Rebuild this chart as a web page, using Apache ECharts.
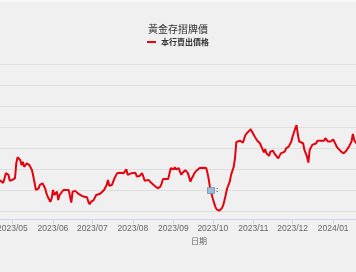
<!DOCTYPE html>
<html><head><meta charset="utf-8">
<script src="https://cdn.jsdelivr.net/npm/echarts@6/dist/echarts.min.js"></script>
<style>html,body{margin:0;padding:0;background:#f0f0f0;}#c{width:356px;height:272px;}</style>
</head><body><div id="c"></div>
<script>
var chartTitle = '黃金存摺牌價';
var seriesName = '本行賣出價格';
var axisName = '日期';
var dates = ['2023-04-20','2023-04-21','2023-04-24','2023-04-25','2023-04-26','2023-04-28','2023-04-29',
'2023-05-01','2023-05-03','2023-05-04','2023-05-05','2023-05-07','2023-05-08','2023-05-09','2023-05-10','2023-05-12','2023-05-13','2023-05-14','2023-05-16','2023-05-17','2023-05-18','2023-05-19','2023-05-21','2023-05-22','2023-05-23','2023-05-24','2023-05-26','2023-05-27','2023-05-28','2023-05-30','2023-05-31',
'2023-06-01','2023-06-02','2023-06-04','2023-06-05','2023-06-06','2023-06-07','2023-06-09','2023-06-10','2023-06-11','2023-06-13','2023-06-14','2023-06-15','2023-06-16','2023-06-18','2023-06-19','2023-06-20','2023-06-21','2023-06-23','2023-06-25','2023-06-27','2023-06-28','2023-06-29','2023-06-30',
'2023-07-02','2023-07-04','2023-07-07','2023-07-08','2023-07-10','2023-07-11','2023-07-12','2023-07-13','2023-07-14','2023-07-16','2023-07-17','2023-07-18','2023-07-20','2023-07-22','2023-07-25','2023-07-26','2023-07-27','2023-07-28','2023-07-31',
'2023-08-01','2023-08-03','2023-08-04','2023-08-06','2023-08-08','2023-08-09','2023-08-10','2023-08-13','2023-08-14','2023-08-15','2023-08-18','2023-08-20','2023-08-22','2023-08-23','2023-08-24','2023-08-25','2023-08-28','2023-08-29','2023-08-30',
'2023-09-01','2023-09-02','2023-09-03','2023-09-05','2023-09-06','2023-09-07','2023-09-08','2023-09-10','2023-09-11','2023-09-12','2023-09-14','2023-09-15','2023-09-16','2023-09-17','2023-09-19','2023-09-21','2023-09-24','2023-09-26','2023-09-27','2023-09-28','2023-09-29','2023-09-30',
'2023-10-01','2023-10-03','2023-10-04','2023-10-05','2023-10-06','2023-10-08','2023-10-09','2023-10-10','2023-10-12','2023-10-13','2023-10-14','2023-10-15','2023-10-17','2023-10-18','2023-10-19','2023-10-20','2023-10-22','2023-10-24','2023-10-26','2023-10-28','2023-10-29','2023-10-30','2023-10-31',
'2023-11-02','2023-11-04','2023-11-06','2023-11-08','2023-11-09','2023-11-10','2023-11-11','2023-11-12','2023-11-13','2023-11-14','2023-11-16','2023-11-17','2023-11-18','2023-11-20','2023-11-22','2023-11-25','2023-11-26','2023-11-28','2023-11-30',
'2023-12-01','2023-12-03','2023-12-04','2023-12-05','2023-12-06','2023-12-07','2023-12-09','2023-12-10','2023-12-12','2023-12-13','2023-12-14','2023-12-16','2023-12-17','2023-12-19','2023-12-20','2023-12-22','2023-12-23','2023-12-25','2023-12-26','2023-12-28','2023-12-29','2023-12-30',
'2024-01-01','2024-01-02','2024-01-04','2024-01-07','2024-01-09','2024-01-11','2024-01-13','2024-01-15','2024-01-16','2024-01-17','2024-01-18','2024-01-20'];
var prices = [1927,1925,1918,1929,1941,1937,1923,
1925,1929,1965,1979,1972,1960,1968,1956,1964,1966,1960,1948,1933,1917,1901,1905,1913,1909,1917,1905,1893,1885,1873,1881,
1901,1889,1897,1877,1889,1889,1901,1897,1901,1901,1897,1871,1897,1899,1899,1893,1889,1887,1885,1884,1873,1867,1873,
1877,1889,1892,1893,1901,1905,1913,1925,1911,1913,1921,1929,1941,1942,1941,1944,1950,1937,1941,
1944,1942,1933,1934,1941,1933,1923,1925,1923,1918,1910,1905,1909,1917,1927,1925,1927,1941,1953,
1950,1955,1950,1953,1944,1937,1942,1948,1950,1941,1921,1929,1934,1941,1948,1953,1954,1953,1941,1925,1905,1893,
1881,1861,1855,1854,1852,1858,1865,1877,1905,1909,1921,1937,1956,1977,2015,2019,2018,2013,2032,2039,2043,2045,2039,
2028,2018,2012,1998,1990,1998,1988,1992,1982,1992,1994,1988,1990,1976,1988,1992,2000,2004,2016,
2028,2047,2055,2032,2016,2020,2012,1996,1980,1966,1996,2008,2004,2012,2018,2018,2021,2018,2024,2016,2015,2016,
2021,2020,2002,1992,1988,1994,2004,2016,2034,2020,2014,2008];
var xRange = ['2023-03-22', '2024-03-21'];
var yMin = 1850, yMax = 2200, yStep = 50;

var data = dates.map(function (d, i) { return [d, prices[i]]; });
var DAY = 86400000;
var chart = echarts.init(document.getElementById('c'), null, {renderer: 'canvas'});
var latin = '"Liberation Sans", "Noto Sans CJK TC", sans-serif';
chart.setOption({
  backgroundColor: '#f0f0f0',
  animation: false,
  title: {
    text: chartTitle, left: 'center', top: 19,
    textStyle: {fontSize: 10, fontWeight: 'normal', color: '#333', fontFamily: '"Noto Sans CJK TC", sans-serif'}
  },
  legend: {
    data: [seriesName], left: 'center', top: 33,
    icon: 'rect', itemWidth: 9, itemHeight: 2, itemGap: 4,
    textStyle: {fontSize: 8, fontWeight: 'bold', color: '#333', fontFamily: '"Noto Sans CJK TC", sans-serif'}
  },
  grid: {left: -40, width: 478, top: 64, height: 147.5, containLabel: false, outerBoundsMode: 'none'},
  xAxis: {
    type: 'time', min: xRange[0], max: xRange[1],
    minInterval: 27 * DAY, maxInterval: 32 * DAY,
    offset: 7.5,
    name: axisName, nameLocation: 'middle', nameGap: 17,
    nameTextStyle: {fontSize: 8, color: '#666', fontFamily: '"Noto Sans CJK TC", sans-serif'},
    axisLine: {show: true, lineStyle: {color: '#ccd6eb', width: 1}},
    axisTick: {show: true, length: 5, lineStyle: {color: '#ccd6eb'}},
    axisLabel: {
      fontSize: 8.5, color: '#666', margin: 5, fontFamily: latin,
      formatter: function (v) {
        var d = new Date(v);
        var m = d.getMonth() + 1;
        return d.getFullYear() + '/' + (m < 10 ? '0' + m : m);
      }
    },
    splitLine: {show: false}
  },
  yAxis: {
    type: 'value', min: yMin, max: yMax, interval: yStep,
    axisLabel: {show: false}, axisLine: {show: false}, axisTick: {show: false},
    splitLine: {show: true, lineStyle: {color: '#dfdfdf', width: 1}}
  },
  graphic: [
    {type: 'rect', z: 100, shape: {x: 0, y: 0, width: 356, height: 1.5}, style: {fill: '#fafafa'}, silent: true},
    {type: 'rect', z: 100, shape: {x: 207.5, y: 187.5, width: 7, height: 6}, style: {fill: '#9dbbd6', stroke: '#6f92b3', lineWidth: 0.8}, silent: true},
    {type: 'text', z: 100, style: {x: 216, y: 186.5, text: ':', fontSize: 7, fontWeight: 'bold', fill: '#444'}, silent: true}
  ],
  series: [{
    name: seriesName, type: 'line', data: data,
    showSymbol: false, symbol: 'none',
    lineStyle: {color: '#e3000f', width: 2},
    itemStyle: {color: '#e3000f'}
  }]
});
</script>
</body></html>
